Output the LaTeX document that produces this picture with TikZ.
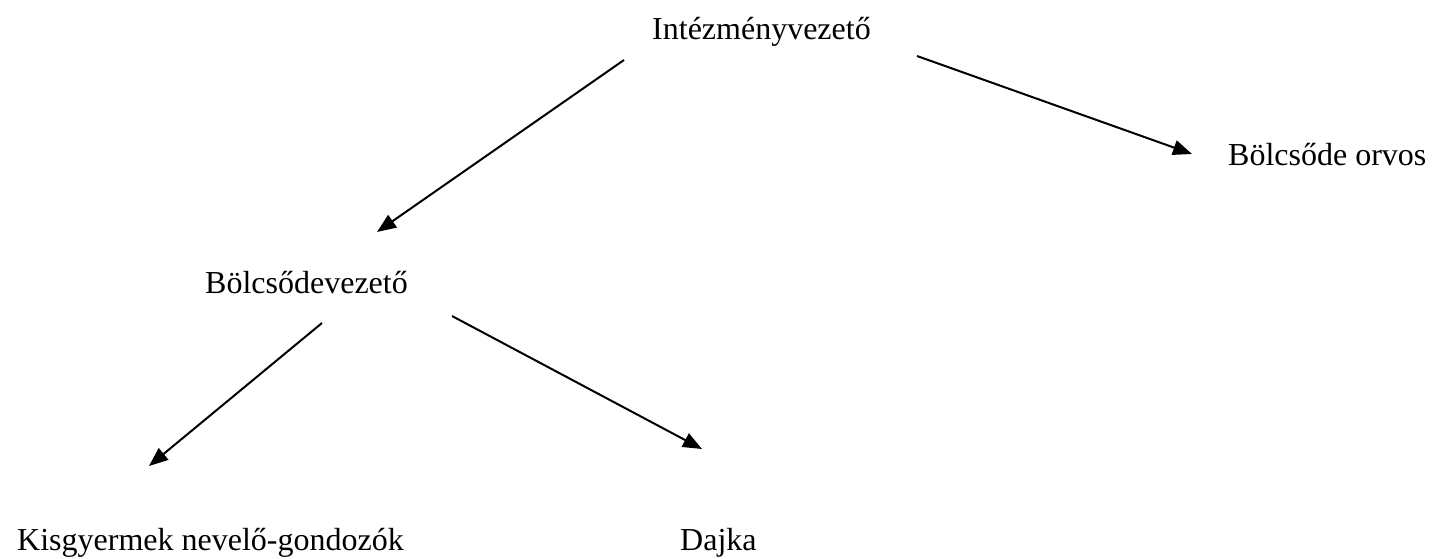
\documentclass[tikz,border=0pt]{standalone}
\usepackage{fontspec}
\setmainfont{Liberation Serif}
\usetikzlibrary{arrows.meta}
\tikzset{
  lbl/.style={anchor=base west, inner sep=0pt, font=\fontsize{32}{38}\selectfont},
  arr/.style={line width=2pt, -{Triangle[length=19pt,width=15pt]}}
}
\begin{document}
\begin{tikzpicture}[x=1pt,y=-1pt]
\useasboundingbox (0,0) rectangle (1432,559);
\node[lbl] (iv) at (652,40) {Intézményvezető};
\node[lbl] (bo) at (1228,165) {Bölcsőde orvos};
\node[lbl] (bv) at (205,293) {Bölcsődevezető};
\node[lbl] (kg) at (17,550) {Kisgyermek nevelő-gondozók};
\node[lbl] (dj) at (680,550) {Dajka};
\coordinate (a1s) at (624,60);
\coordinate (a1e) at (377,232);
\coordinate (a2s) at (917,56);
\coordinate (a2e) at (1192,154);
\coordinate (a3s) at (322,323);
\coordinate (a3e) at (149,466);
\coordinate (a4s) at (452,316);
\coordinate (a4e) at (702,449);
\draw[arr] (a1s) -- (a1e);
\draw[arr] (a2s) -- (a2e);
\draw[arr] (a3s) -- (a3e);
\draw[arr] (a4s) -- (a4e);
\end{tikzpicture}
\end{document}
